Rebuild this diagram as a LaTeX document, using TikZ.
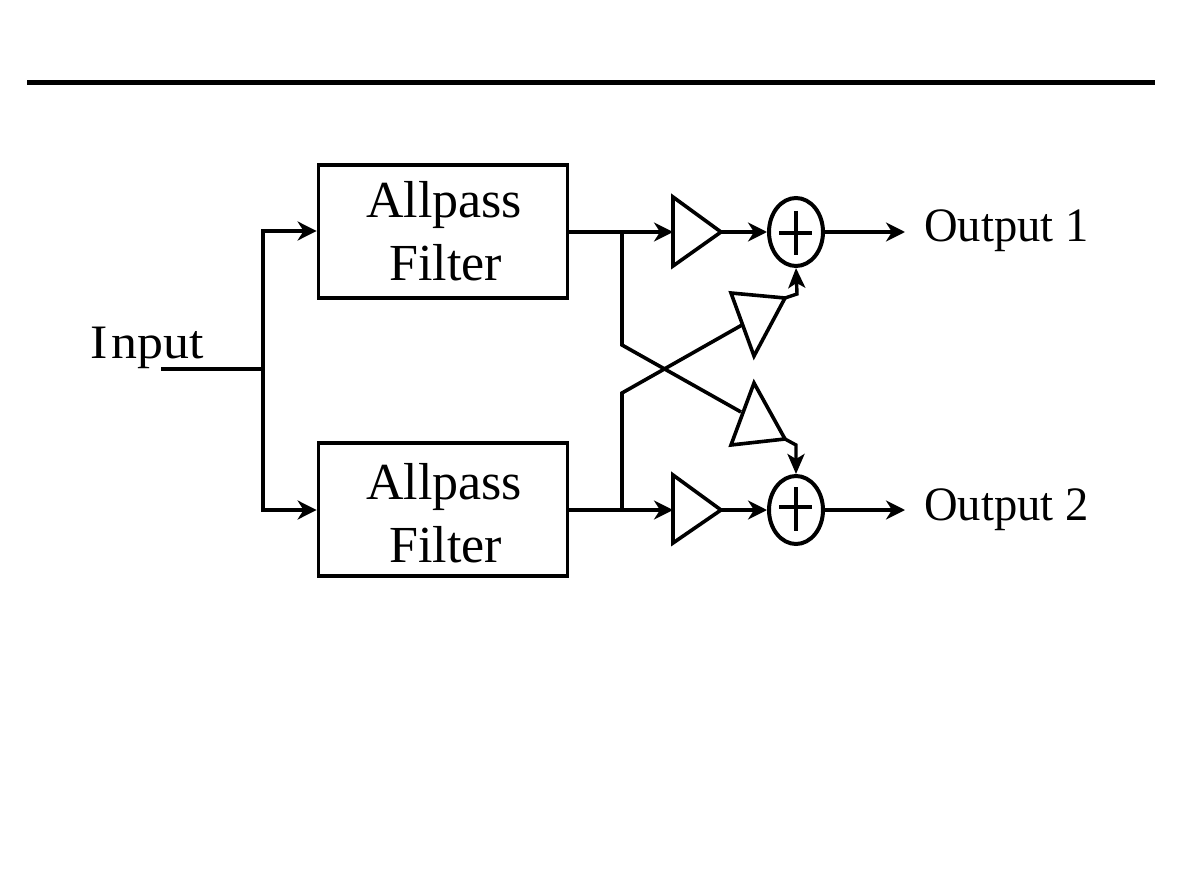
\documentclass[tikz,border=0pt]{standalone}
\usepackage{fontspec}
\setmainfont{Liberation Serif}
\usetikzlibrary{arrows.meta,shapes.geometric}
\tikzset{
  wire/.style={line width=4pt,line join=miter},
  arrowed/.style={wire,-{Stealth[length=19pt,width=19pt,inset=6pt]}},
  thinarrow/.style={line width=3.4pt,-{Stealth[length=20pt,width=17pt,inset=5pt]}},
  filterbox/.style={draw,line width=3.8pt,minimum width=249pt,minimum height=133pt,inner sep=0pt,align=center},
  sumnode/.style={draw,ellipse,line width=4pt,minimum width=54pt,minimum height=68pt,inner sep=0pt},
  gain/.style={line width=3.6pt,line join=miter},
  lab/.style={inner sep=0pt,anchor=base west,font=\fontsize{52}{52}\selectfont},
  outlab/.style={inner sep=0pt,anchor=base west,font=\fontsize{48}{48}\selectfont},
}
\begin{document}
\begin{tikzpicture}[x=1pt,y=-1pt]
\useasboundingbox (0,0) rectangle (1190,893);
\coordinate (ruleL) at (27,83);
\coordinate (ruleR) at (1155,83);
\draw[line width=5pt] (ruleL) -- (ruleR);

\node[filterbox] (f1) at (443,231.5) {};
\node[filterbox] (f2) at (443,509.5) {};
\node[lab] (t1a) at (366,218) {Allpass};
\node[lab] (t1b) at (389,280) {Filter};
\node[lab] (t2a) at (366,499) {Allpass};
\node[lab] (t2b) at (389,562) {Filter};

\node[sumnode] (s1) at (796,232) {};
\node[sumnode] (s2) at (796,510) {};
\draw[line width=3.6pt] (779,233) -- (812,233) (796,211) -- (796,255);
\draw[line width=3.6pt] (779,507) -- (812,507) (796,487) -- (796,531);

% gains
\coordinate (g1a) at (673,197); \coordinate (g1b) at (673,266); \coordinate (g1t) at (721,232);
\coordinate (g2a) at (673,475); \coordinate (g2b) at (673,543); \coordinate (g2t) at (721,510);
\coordinate (g3a) at (731,293); \coordinate (g3b) at (785,298); \coordinate (g3c) at (754,356);
\coordinate (g4a) at (754,383); \coordinate (g4b) at (785,439); \coordinate (g4c) at (731,445);
\draw[gain] (g1a) -- (g1t) -- (g1b) -- cycle;
\draw[gain] (g2a) -- (g2t) -- (g2b) -- cycle;
\draw[gain] (g3a) -- (g3b) -- (g3c) -- cycle;
\draw[gain] (g4a) -- (g4b) -- (g4c) -- cycle;

% input
\coordinate (in) at (161,369);
\coordinate (j) at (263,369);
\coordinate (ju) at (263,231);
\coordinate (jd) at (263,510);
\draw[wire] (in) -- (j);
\draw[arrowed] (j) -- (ju) -- (f1.west|-ju);
\draw[arrowed] (j) -- (jd) -- (f2.west|-jd);

% forward paths
\coordinate (b1) at (622,232);
\coordinate (b2) at (622,510);
\draw[wire] (f1.east|-b1) -- (b1);
\draw[wire] (f2.east|-b2) -- (b2);
\draw[arrowed] (b1) -- (g1a|-b1);
\draw[arrowed] (b2) -- (g2a|-b2);
\draw[arrowed] (g1t) -- (s1.west);
\draw[arrowed] (g2t) -- (s2.west);

% cross paths
\coordinate (c1) at (622,345);
\coordinate (c2) at (622,393);
\coordinate (c3) at (741,412);
\coordinate (c4) at (742,325);
\draw[wire,line width=3.6pt] (b1) -- (c1) -- (c3);
\draw[wire,line width=3.6pt] (b2) -- (c2) -- (c4);

% into the adders
\coordinate (k1) at (797,294);
\coordinate (k2) at (796,445);
\draw[thinarrow] (g3b) -- (k1) -- (s1.south);
\draw[thinarrow] (g4b) -- (k2) -- (s2.north);

% outputs
\coordinate (o1) at (905,232);
\coordinate (o2) at (905,510);
\draw[arrowed] (s1.east) -- (o1);
\draw[arrowed] (s2.east) -- (o2);

\node[outlab,xscale=.97] (lo1) at (924,241) {Output 1};
\node[outlab,xscale=.97] (lo2) at (924,520) {Output 2};
\node[outlab,xscale=1.08] (li) at (90,358) {I\hspace{4pt}nput};
\end{tikzpicture}
\end{document}
